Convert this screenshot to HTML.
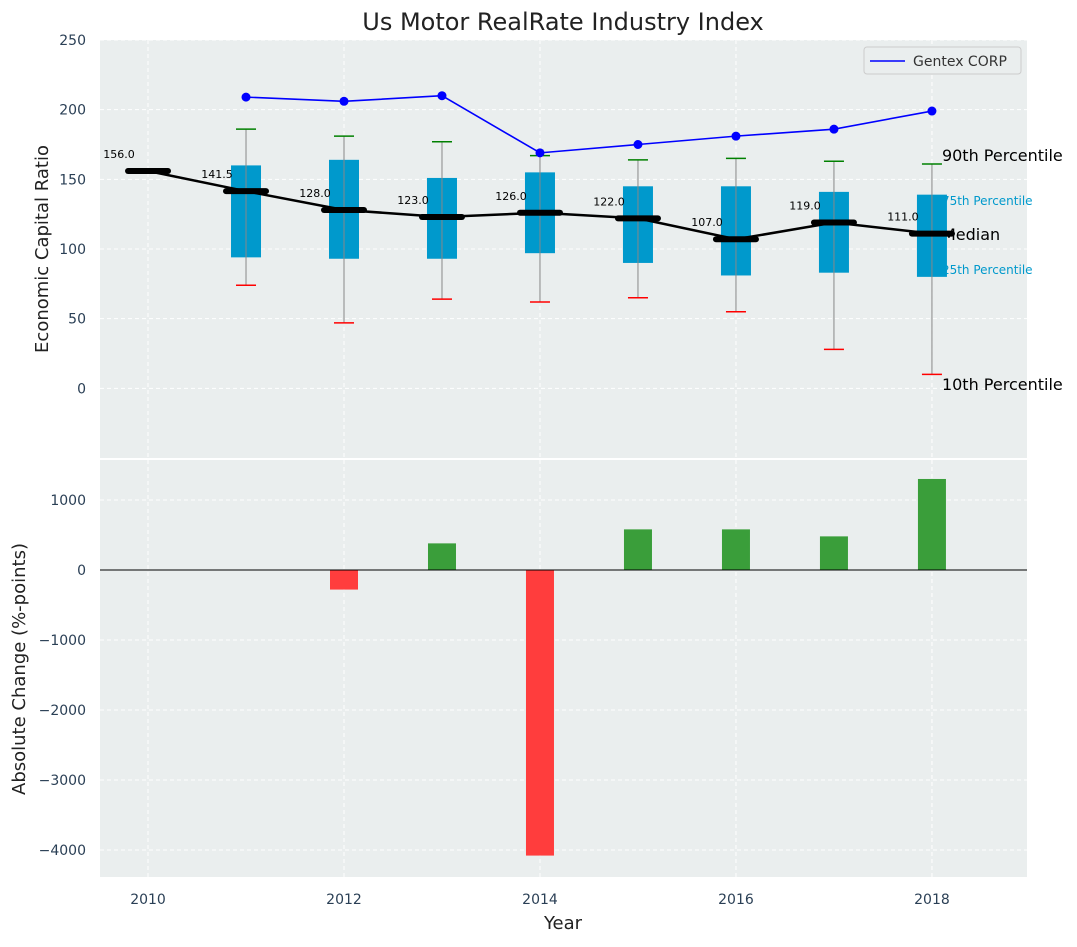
<!DOCTYPE html>
<html><head><meta charset="utf-8"><style>
body{margin:0;background:#fff;font-family:"Liberation Sans","DejaVu Sans",sans-serif}
svg text{font-family:"DejaVu Sans","Liberation Sans",sans-serif}
</style></head><body>
<svg id="chart" width="1077" height="942" xmlns="http://www.w3.org/2000/svg"></svg>
<script>
const years=[2010,2011,2012,2013,2014,2015,2016,2017,2018];
const medians=[156,141.5,128,123,126,122,107,119,111];
const boxYears=[2011,2012,2013,2014,2015,2016,2017,2018];
const q1=[94,93,93,97,90,81,83,80];
const q3=[160,164,151,155,145,145,141,139];
const p10=[74,47,64,62,65,55,28,10];
const p90=[186,181,177,167,164,165,163,161];
const gentex=[209,206,210,169,175,181,186,199];
const changeYears=[2012,2013,2014,2015,2016,2017,2018];
const changes=[-280,380,-4080,580,580,480,1300];
const topTicks=[0,50,100,150,200,250];
const botTicks=[-4000,-3000,-2000,-1000,0,1000];
const xTicks=[2010,2012,2014,2016,2018];

const NS="http://www.w3.org/2000/svg",svg=document.getElementById('chart');
function el(t,a,p){const e=document.createElementNS(NS,t);for(const k in a)e.setAttribute(k,a[k]);(p||svg).appendChild(e);return e;}
const L=100,R=1027;
const x=v=>L+(v-2009.51)/(2018.97-2009.51)*(R-L);
const T0=40,T1=458,yT=v=>T0+(250-v)/300*(T1-T0);
const B0=460,B1=877,yB=v=>B0+(1571-v)/(1571+4386)*(B1-B0);

function panel(y0,y1,name){el('rect',{x:L,y:y0,width:R-L,height:y1-y0,fill:'#eaeeee',});}
panel(T0,T1,'top-plot-area');panel(B0,B1,'bottom-plot-area');
const grid={stroke:'#ffffff','stroke-dasharray':'4,3','stroke-width':1};
xTicks.forEach(t=>{el('line',Object.assign({x1:x(t),x2:x(t),y1:T0,y2:T1},grid));el('line',Object.assign({x1:x(t),x2:x(t),y1:B0,y2:B1},grid));
 const tx=el('text',{x:x(t),y:904,'text-anchor':'middle','font-size':14,fill:'#2a3f55'});tx.textContent=t;
 });
topTicks.forEach(t=>{el('line',Object.assign({x1:L,x2:R,y1:yT(t),y2:yT(t)},grid));
 const tx=el('text',{x:86,y:yT(t)+5,'text-anchor':'end','font-size':14,fill:'#2a3f55'});tx.textContent=t;
 });
botTicks.forEach(t=>{el('line',Object.assign({x1:L,x2:R,y1:yB(t),y2:yB(t)},grid));
 const tx=el('text',{x:86,y:yB(t)+5,'text-anchor':'end','font-size':14,fill:'#2a3f55'});tx.textContent=(t<0?'\u2212'+(-t):t);
 });

// right labels (drawn first so boxes overlap them)
const lx=x(2018)+10;
[['90th Percentile',161,16,'#000'],['75th Percentile',205,12,'#0099cc'],['Median',240,16,'#000'],['25th Percentile',274,12,'#0099cc'],['10th Percentile',390,16,'#000']].forEach(([s,yy,f,c])=>{
 const t=el('text',{x:lx,y:yy,'font-size':f,fill:c});t.textContent=s;
 });

// boxes
boxYears.forEach((yr,i)=>{const cx=x(yr),g=el('g',{});
 
 el('rect',{x:cx-15,y:yT(q3[i]),width:30,height:yT(q1[i])-yT(q3[i]),fill:'#0099cc'},g);
 el('line',{x1:cx,x2:cx,y1:yT(p90[i]),y2:yT(p10[i]),stroke:'#888','stroke-width':1},g);
 el('line',{x1:cx-10,x2:cx+10,y1:yT(p90[i]),y2:yT(p90[i]),stroke:'green','stroke-width':1.5},g);
 el('line',{x1:cx-10,x2:cx+10,y1:yT(p10[i]),y2:yT(p10[i]),stroke:'red','stroke-width':1.5},g);
});
// median line
el('polyline',{points:years.map((yr,i)=>x(yr)+','+yT(medians[i])).join(' '),fill:'none',stroke:'#000','stroke-width':2.5,});
years.forEach((yr,i)=>{const cx=x(yr);
 const m=el('line',{x1:cx-20,x2:cx+20,y1:yT(medians[i]),y2:yT(medians[i]),stroke:'#000','stroke-width':6,'stroke-linecap':'round'});
 
 const t=el('text',{x:cx-29,y:yT(medians[i])-13,'text-anchor':'middle','font-size':11,fill:'#000'});t.textContent=medians[i].toFixed(1);
 });
// gentex
el('polyline',{points:boxYears.map((yr,i)=>x(yr)+','+yT(gentex[i])).join(' '),fill:'none',stroke:'blue','stroke-width':1.6,});
boxYears.forEach((yr,i)=>{const c=el('circle',{cx:x(yr),cy:yT(gentex[i]),r:4.5,fill:'blue'});
 });
// legend
const lg=el('g',{});
el('rect',{x:864,y:47,width:157,height:27,rx:3,fill:'#eaeeee',stroke:'#ccc'},lg);
el('line',{x1:870,x2:905,y1:61,y2:61,stroke:'blue','stroke-width':1.6},lg);
const lt=el('text',{x:913,y:66,'font-size':14,fill:'#333'},lg);lt.textContent='Gentex CORP';
// bars
changeYears.forEach((yr,i)=>{const v=changes[i];
 const b=el('rect',{x:x(yr)-14,y:Math.min(yB(v),yB(0)),width:28,height:Math.abs(yB(v)-yB(0)),fill:v<0?'#ff3d3d':'#3a9e3a'});
 });
el('line',{x1:L,x2:R,y1:yB(0),y2:yB(0),stroke:'#000','stroke-width':1,});
// titles
function txt(s,a,n){const t=el('text',a);t.textContent=s;}
txt('Us Motor RealRate Industry Index',{x:563,y:30,'text-anchor':'middle','font-size':24,fill:'#222'},'chart-title');
txt('Year',{x:563,y:929,'text-anchor':'middle','font-size':18,fill:'#222'},'x-axis-title');
txt('Economic Capital Ratio',{x:48,y:249,'text-anchor':'middle','font-size':18,fill:'#222',transform:'rotate(-90 48 249)'},'top-y-axis-title');
txt('Absolute Change (%-points)',{x:25,y:669,'text-anchor':'middle','font-size':18,fill:'#222',transform:'rotate(-90 25 669)'},'bottom-y-axis-title');
</script>
</body></html>
